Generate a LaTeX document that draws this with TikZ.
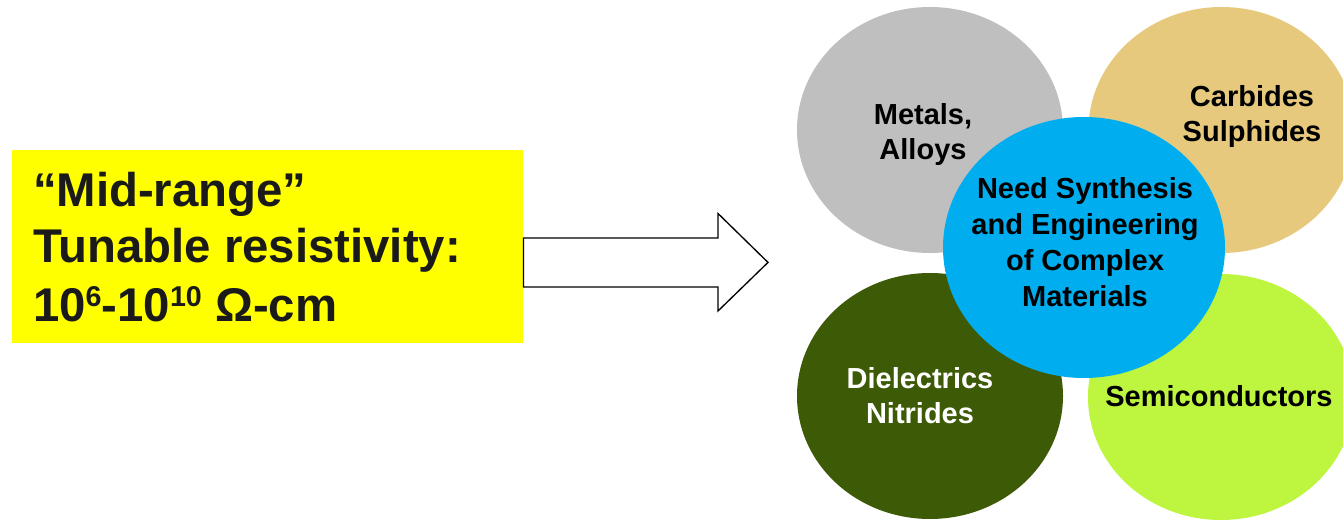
\documentclass[tikz,border=0pt]{standalone}
\usepackage{fontspec}
\setmainfont{Liberation Sans}
\usetikzlibrary{shapes.geometric}

\definecolor{boxyellow}{HTML}{FFFF00}
\definecolor{metalgray}{HTML}{BFBFBF}
\definecolor{carbidetan}{HTML}{E6C97D}
\definecolor{dielgreen}{HTML}{3D5A06}
\definecolor{semilime}{HTML}{BDF53F}
\definecolor{coreblue}{HTML}{00AEEF}
\definecolor{inkdark}{HTML}{1A1A1A}

% raised, smaller exponent digits
\newcommand\expdigits[1]{\raisebox{11.5pt}{\fontsize{21.5pt}{21.5pt}\selectfont #1}}

\begin{document}
\begin{tikzpicture}[x=0.75pt,y=-0.75pt,
  bigtext/.style={inner sep=0pt, outer sep=0pt, text=inkdark,
    font=\fontsize{35.5pt}{40pt}\selectfont\bfseries},
  bubble/.style={ellipse, draw=none, inner sep=0pt, outer sep=0pt,
    minimum width=199.5pt, minimum height=184.5pt},
  bubbletext/.style={inner sep=0pt, outer sep=0pt, align=center, text=black,
    font=\fontsize{21.75pt}{26.2pt}\selectfont\bfseries},
  blockarrow/.style={draw=black, line width=1pt, fill=white, line join=miter}
]
\useasboundingbox (0,0) rectangle (1343,520);
\clip (0,0) rectangle (1343,520);

% statement box on the left
\node[fill=boxyellow, inner sep=0pt, outer sep=0pt,
      minimum width=383.6pt, minimum height=144.75pt] (box) at (267.75,246.5) {};
\node[bigtext, anchor=base west] (lineA) at (33,207) {“Mid-range”};
\node[bigtext, anchor=base west] (lineB) at (33,263) {Tunable resistivity:};
\node[bigtext, anchor=base west] (lineC) at (33,322)
  {10\expdigits{6}-10\expdigits{10} Ω-cm};

% hollow block arrow leading to the material classes
\coordinate (arrowtail) at (box.east);
\draw[blockarrow] (arrowtail |- 0,238) -- (718,238) -- (718,213.5)
  -- (768,262.4) -- (718,311) -- (718,287) -- (arrowtail |- 0,287) -- cycle;

% four material classes
\node[bubble, fill=metalgray]  (metals)  at (930,130) {};
\node[bubble, fill=carbidetan] (carbides) at (1221.5,130) {};
\node[bubble, fill=dielgreen]  (dielectrics) at (930,396) {};
\node[bubble, fill=semilime]   (semis) at (1221,397) {};

% central bubble
\node[bubble, fill=coreblue, minimum width=211.5pt, minimum height=195.75pt]
  (core) at (1084,247.5) {};

% labels
\node[bubbletext] (metalsT) at (923,134.5) {Metals,\\Alloys};
\node[bubbletext] (carbidesT) at (1252,116.5) {Carbides\\Sulphides};
\node[bubbletext, text=white] (dielectricsT) at (920,396) {Dielectrics\\Nitrides};
\node[bubbletext] (semisT) at (1219,396.5) {Semiconductors};
\node[bubbletext, font=\fontsize{21.75pt}{27pt}\selectfont\bfseries]
  (coreT) at (1085,242) {Need Synthesis\\and Engineering\\of Complex\\Materials};
\end{tikzpicture}
\end{document}
